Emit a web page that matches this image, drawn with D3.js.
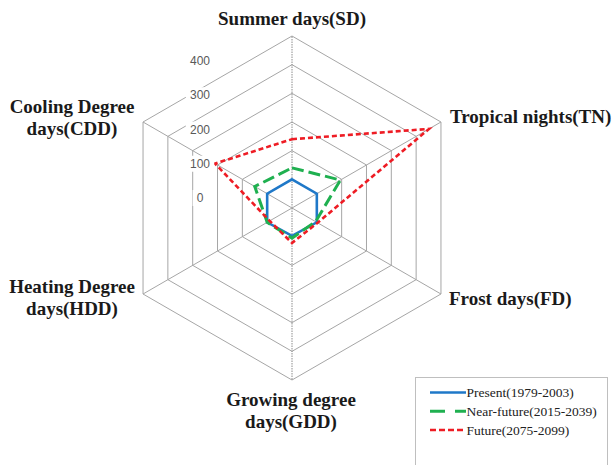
<!DOCTYPE html>
<html>
<head>
<meta charset="utf-8">
<script src="https://cdn.jsdelivr.net/npm/d3@7"></script>
<style>
  body { margin: 0; background: #fff; }
  svg { display: block; }
</style>
</head>
<body>
<script>
// indicators, clockwise from the top
var indicators = ['SD', 'TN', 'FD', 'GDD', 'HDD', 'CDD'];
var indicatorLabels = [
  ['Summer days(SD)'],
  ['Tropical nights(TN)'],
  ['Frost days(FD)'],
  ['Growing degree', 'days(GDD)'],
  ['Heating Degree', 'days(HDD)'],
  ['Cooling Degree', 'days(CDD)']
];

// values relative to present (present = 100)
var present    = [100, 100, 100, 97, 100, 100];
var nearFuture = [140, 195, 95, 105, 100, 150];
var future     = [240, 552, 103, 122, 90, 310];

var seriesNames = ['Present(1979-2003)', 'Near-future(2015-2039)', 'Future(2075-2099)'];
var ringValues = [100, 200, 300, 400, 500, 600];
var tickLabels = [0, 100, 200, 300, 400];

var width = 612, height = 465;
var cx = 292, cy = 208, R = 172;

var series = [
  { name: seriesNames[0], values: present,    color: '#1f78c8', dash: null,   w: 2.6 },
  { name: seriesNames[1], values: nearFuture, color: '#1fb050', dash: '12,5', w: 3 },
  { name: seriesNames[2], values: future,     color: '#ee1c24', dash: '5,3',  w: 2.6 }
];

var r = d3.scaleLinear().domain([0, 600]).range([0, R]);
var angle = d3.scalePoint().domain(indicators.concat(['_end'])).range([0, 2 * Math.PI]);
// tick labels sit on their own ladder left of the vertical axis
var tickY = d3.scaleLinear().domain([0, 400]).range([198, 61]);

var svg = d3.select('body').append('svg')
    .attr('width', width)
    .attr('height', height);

var g = svg.append('g').attr('transform', `translate(${cx},${cy})`);

var pt = (a, rad) => [rad * Math.sin(a), -rad * Math.cos(a)];

// rings
var ringLine = d3.lineRadial()
    .angle(d => angle(d))
    .curve(d3.curveLinearClosed);

g.selectAll('path.ring')
  .data(ringValues)
  .enter().append('path')
    .attr('class', 'ring')
    .attr('d', v => ringLine.radius(r(v))(indicators))
    .attr('fill', 'none')
    .attr('stroke', '#a6a6a6')
    .attr('stroke-width', 1);

// spokes
g.selectAll('line.spoke')
  .data(indicators)
  .enter().append('line')
    .attr('class', 'spoke')
    .attr('x1', 0).attr('y1', 0)
    .attr('x2', d => pt(angle(d), r(600))[0])
    .attr('y2', d => pt(angle(d), r(600))[1])
    .attr('stroke', d => (d === 'SD' || d === 'GDD') ? '#8c8c8c' : '#a6a6a6')
    .attr('stroke-dasharray', d => (d === 'SD' || d === 'GDD') ? '1.5,1' : null)
    .attr('stroke-width', 1);

// tick labels with white boxes
var ticks = svg.append('g').attr('class', 'ticks');
var tk = ticks.selectAll('g')
  .data(tickLabels)
  .enter().append('g')
    .attr('transform', d => `translate(200,${tickY(d)})`);

tk.append('rect')
    .attr('x', d => -String(d).length * 3.4 - 4)
    .attr('y', -8)
    .attr('width', d => String(d).length * 6.8 + 8)
    .attr('height', 16)
    .attr('fill', '#fff');

tk.append('text')
    .attr('text-anchor', 'middle')
    .attr('dy', '0.35em')
    .style('font-family', '"Liberation Sans", Arial, sans-serif')
    .style('font-size', '12px')
    .attr('fill', '#595959')
    .text(d => d);

// series
var seriesLine = d3.lineRadial()
    .angle((d, i) => angle(indicators[i]))
    .radius(d => r(d))
    .curve(d3.curveLinearClosed);

g.selectAll('path.series')
  .data(series)
  .enter().append('path')
    .attr('class', 'series')
    .attr('d', s => seriesLine(s.values))
    .attr('fill', 'none')
    .attr('stroke', s => s.color)
    .attr('stroke-width', s => s.w)
    .attr('stroke-dasharray', s => s.dash)
    .attr('stroke-linejoin', 'miter');

// indicator labels
var labelPos = {
  SD:  { x: 292, y: 25,  anchor: 'middle' },
  TN:  { x: 450, y: 123, anchor: 'start' },
  FD:  { x: 449, y: 305, anchor: 'start' },
  GDD: { x: 291, y: 406, anchor: 'middle' },
  HDD: { x: 72,  y: 293, anchor: 'middle' },
  CDD: { x: 72,  y: 113, anchor: 'middle' }
};

var labels = svg.selectAll('text.axis-label')
  .data(indicators)
  .enter().append('text')
    .attr('class', 'axis-label')
    .attr('x', d => labelPos[d].x)
    .attr('y', d => labelPos[d].y)
    .attr('text-anchor', d => labelPos[d].anchor)
    .style('font-family', '"Liberation Serif", "Times New Roman", serif')
    .style('font-weight', 'bold')
    .style('font-size', '19px')
    .attr('fill', '#1a1a1a');

labels.selectAll('tspan')
  .data((d, i) => indicatorLabels[i].map(t => ({ t: t, x: labelPos[d].x })))
  .enter().append('tspan')
    .attr('x', d => d.x)
    .attr('dy', (d, i) => i === 0 ? 0 : 21.5)
    .text(d => d.t);

// legend
var legend = svg.append('g').attr('class', 'legend');
legend.append('rect')
    .attr('x', 415.5).attr('y', 377.5)
    .attr('width', 192).attr('height', 100)
    .attr('fill', '#fff')
    .attr('stroke', '#bfbfbf');

var rowY = d3.scalePoint().domain(seriesNames).range([392.5, 430]);

var item = legend.selectAll('g.item')
  .data(series)
  .enter().append('g')
    .attr('class', 'item')
    .attr('transform', s => `translate(0,${rowY(s.name)})`);

item.append('line')
    .attr('x1', 430).attr('x2', 466)
    .attr('stroke', s => s.color)
    .attr('stroke-width', s => s.w)
    .attr('stroke-dasharray', s => s.name === seriesNames[1] ? '15,10' : s.dash === null ? null : '6,3');

item.append('text')
    .attr('x', 466.5)
    .attr('dy', '0.35em')
    .style('font-family', '"Liberation Serif", "Times New Roman", serif')
    .style('font-size', '13.5px')
    .attr('fill', '#222')
    .text(s => s.name);
</script>
</body>
</html>
